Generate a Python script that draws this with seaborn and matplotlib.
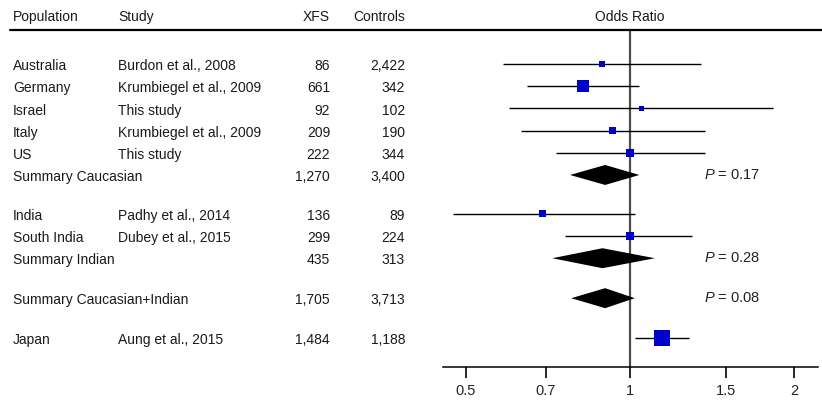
import numpy as np
import pandas as pd
import seaborn as sns
import matplotlib.pyplot as plt
import matplotlib.transforms as mtransforms
from matplotlib.lines import Line2D
from matplotlib.ticker import NullLocator

sns.set_theme(style="white")
plt.rcParams['font.family'] = ['Liberation Sans', 'DejaVu Sans']
plt.rcParams['mathtext.fontset'] = 'custom'
plt.rcParams['mathtext.rm'] = 'Liberation Sans'
plt.rcParams['mathtext.it'] = 'Liberation Sans:italic'

# data
population = ["Australia", "Germany", "Israel", "Italy", "US", "Summary Caucasian",
              "India", "South India", "Summary Indian",
              "Summary Caucasian+Indian", "Japan"]
study = ["Burdon et al., 2008", "Krumbiegel et al., 2009", "This study",
         "Krumbiegel et al., 2009", "This study", "",
         "Padhy et al., 2014", "Dubey et al., 2015", "",
         "", "Aung et al., 2015"]
xfs = ["86", "661", "92", "209", "222", "1,270", "136", "299", "435", "1,705", "1,484"]
controls = ["2,422", "342", "102", "190", "344", "3,400", "89", "224", "313", "3,713", "1,188"]
odds = [0.89, 0.82, 1.05, 0.93, 1.00, 0.90, 0.69, 1.00, 0.89, 0.90, 1.145]
ci_low = [0.585, 0.647, 0.60, 0.631, 0.732, 0.776, 0.474, 0.76, 0.72, 0.78, 1.02]
ci_high = [1.35, 1.04, 1.83, 1.37, 1.37, 1.04, 1.02, 1.30, 1.11, 1.02, 1.28]
is_summary = [False, False, False, False, False, True, False, False, True, True, False]
weight = [3.6, 14.4, 2.5, 4.9, 6.4, 0, 4.9, 6.4, 0, 0, 25.6]
p_text = {5: "0.17", 8: "0.28", 9: "0.08"}
tick_vals = [0.5, 0.7, 1, 1.5, 2]
tick_labels = ["0.5", "0.7", "1", "1.5", "2"]

# layout: vertical row positions (row units)
row_pos = [0, 1, 2, 3, 4, 5, 6.75, 7.75, 8.75, 10.55, 12.35]

df = pd.DataFrame({"pop": population, "study": study, "xfs": xfs, "ctrl": controls,
                   "or": odds, "lo": ci_low, "hi": ci_high, "summ": is_summary,
                   "w": weight, "y": row_pos})

W, H = 822, 403
fig = plt.figure(figsize=(W / 100, H / 100), dpi=100)
ax = fig.add_axes([443 / W, 1 - 367 / H, (818 - 443) / W, (367 - 30) / H])

ax.set_xscale("log")
ax.set_xlim(0.454, 2.21)
ax.set_ylim(13.65, -1.53)
ax.axvline(1, color="#4d4d4d", lw=1.6, zorder=1)

studies = df[~df["summ"]]
ax.hlines(studies["y"], studies["lo"], studies["hi"], color="black", lw=1.0, zorder=2)
sns.scatterplot(data=studies, x="or", y="y", size="w", sizes=(0, 133), size_norm=(0, 25.6),
                marker="s", color="#0000cc", linewidth=0, legend=False, ax=ax, zorder=3)

h = 0.45
for _, r in df[df["summ"]].iterrows():
    ax.fill([r["lo"], r["or"], r["hi"], r["or"]], [r["y"], r["y"] - h, r["y"], r["y"] + h],
            color="black", lw=0, zorder=2)

for i, p in p_text.items():
    ax.text(1.365, row_pos[i], r"$\mathit{P}$ = " + p, fontsize=10.5, va="center",
            ha="left", color="#222222")

for s in ["left", "top", "right"]:
    ax.spines[s].set_visible(False)
ax.spines["bottom"].set_color("black")
ax.spines["bottom"].set_linewidth(1.1)
ax.set_yticks([])
ax.set_xticks(tick_vals)
ax.set_xticklabels(tick_labels, fontsize=10.5, color="#222222")
ax.xaxis.set_minor_locator(NullLocator())
ax.tick_params(axis="x", direction="out", length=8, width=1.2, color="black", pad=4,
               bottom=True)
ax.set_xlabel("")
ax.set_ylabel("")

# left-hand table
tr = mtransforms.blended_transform_factory(fig.transFigure, ax.transData)
fs = 10
txt = "#1a1a1a"
for _, r in df.iterrows():
    ax.text(13 / W, r["y"] + 0.1, r["pop"], transform=tr, fontsize=fs, va="center", ha="left", color=txt)
    ax.text(118 / W, r["y"] + 0.1, r["study"], transform=tr, fontsize=fs, va="center", ha="left", color=txt)
    ax.text(330 / W, r["y"] + 0.1, r["xfs"], transform=tr, fontsize=fs, va="center", ha="right", color=txt)
    ax.text(405 / W, r["y"] + 0.1, r["ctrl"], transform=tr, fontsize=fs, va="center", ha="right", color=txt)

# header
hy = 1 - 17 / H
fig.text(13 / W, hy, "Population", fontsize=fs, va="center", ha="left", color=txt)
fig.text(118 / W, hy, "Study", fontsize=fs, va="center", ha="left", color=txt)
fig.text(330 / W, hy, "XFS", fontsize=fs, va="center", ha="right", color=txt)
fig.text(405 / W, hy, "Controls", fontsize=fs, va="center", ha="right", color=txt)
fig.text(630 / W, hy, "Odds Ratio", fontsize=fs, va="center", ha="center", color=txt)
fig.add_artist(Line2D([10 / W, 1], [1 - 30 / H, 1 - 30 / H], color="black", lw=1.6))

fig.savefig("out.png", dpi=100)
